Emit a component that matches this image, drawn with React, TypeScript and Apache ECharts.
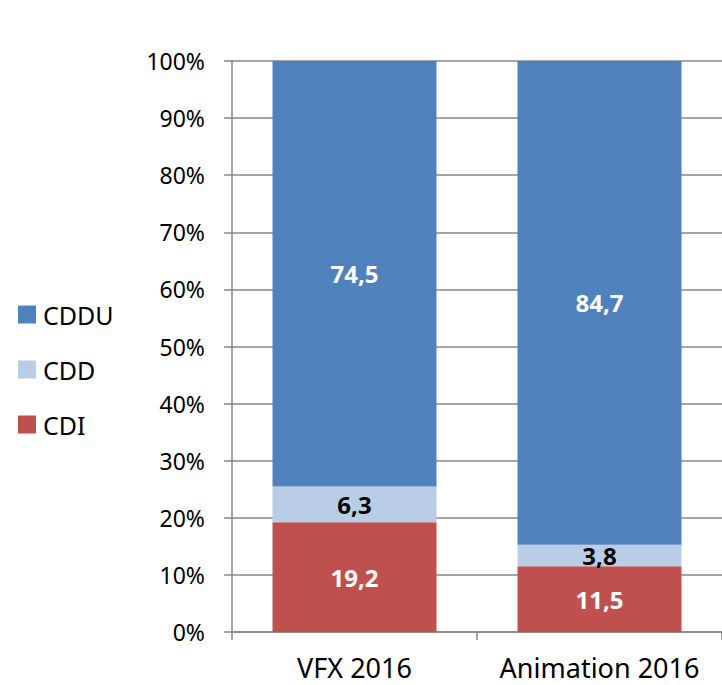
import React, { useEffect, useRef } from "react";
import * as echarts from "echarts";

const categories = ["VFX 2016", "Animation 2016"];
const cdi = [19.2, 11.5];
const cdd = [6.3, 3.8];
const cddu = [74.5, 84.7];
const yTicks = [0, 10, 20, 30, 40, 50, 60, 70, 80, 90, 100];

const FONT = "Noto Sans";
const fmt = (v: number) => v.toFixed(1).replace(".", ",");

export default function App() {
  const ref = useRef<HTMLDivElement>(null);
  useEffect(() => {
    document.body.style.margin = "0";
    if (!ref.current) return;
    const chart = echarts.init(ref.current, undefined, { renderer: "svg" });
    const labelBase = {
      show: true,
      position: "inside" as const,
      fontFamily: FONT,
      fontSize: 24,
      fontWeight: "bold" as const,
      formatter: (p: any) => fmt(p.value),
    };
    chart.setOption({
      animation: false,
      textStyle: { fontFamily: FONT },
      legend: {
        orient: "vertical",
        left: 13,
        top: 297,
        itemWidth: 18,
        itemHeight: 18,
        itemGap: 30,
        icon: "rect",
        data: ["CDDU", "CDD", "CDI"],
        textStyle: { fontFamily: FONT, fontSize: 25, color: "#000", padding: [0, 0, 0, 2] },
      },
      grid: { left: 232, top: 61, width: 492, bottom: 53, containLabel: false },
      xAxis: {
        type: "category",
        data: categories,
        boundaryGap: true,
        axisLine: { lineStyle: { color: "#868686", width: 1.5 } },
        axisTick: { show: true, length: 8, lineStyle: { color: "#868686", width: 1.5 } },
        axisLabel: { fontFamily: FONT, fontSize: 27, color: "#000", margin: 22, interval: 0 },
      },
      yAxis: {
        type: "value",
        min: 0,
        max: 100,
        interval: 10,
        axisLine: { show: true, lineStyle: { color: "#868686", width: 1.5 } },
        axisTick: { show: true, length: 8, lineStyle: { color: "#868686", width: 1.5 } },
        splitLine: { show: true, lineStyle: { color: "#868686", width: 1.5 } },
        axisLabel: {
          fontFamily: FONT,
          fontSize: 23,
          color: "#000",
          margin: 27,
          formatter: (v: number) => (yTicks.includes(v) ? `${v}%` : ""),
        },
      },
      series: [
        {
          name: "CDI",
          type: "bar",
          stack: "total",
          barWidth: 164,
          data: cdi,
          itemStyle: { color: "#C0504D" },
          label: { ...labelBase, color: "#fff" },
        },
        {
          name: "CDD",
          type: "bar",
          stack: "total",
          barWidth: 164,
          data: cdd,
          itemStyle: { color: "#B9CDE5" },
          label: { ...labelBase, color: "#000" },
        },
        {
          name: "CDDU",
          type: "bar",
          stack: "total",
          barWidth: 164,
          data: cddu,
          itemStyle: { color: "#4F81BD" },
          label: { ...labelBase, color: "#fff" },
        },
      ],
    });
    return () => chart.dispose();
  }, []);
  return <div ref={ref} style={{ width: 722, height: 685 }} />;
}
